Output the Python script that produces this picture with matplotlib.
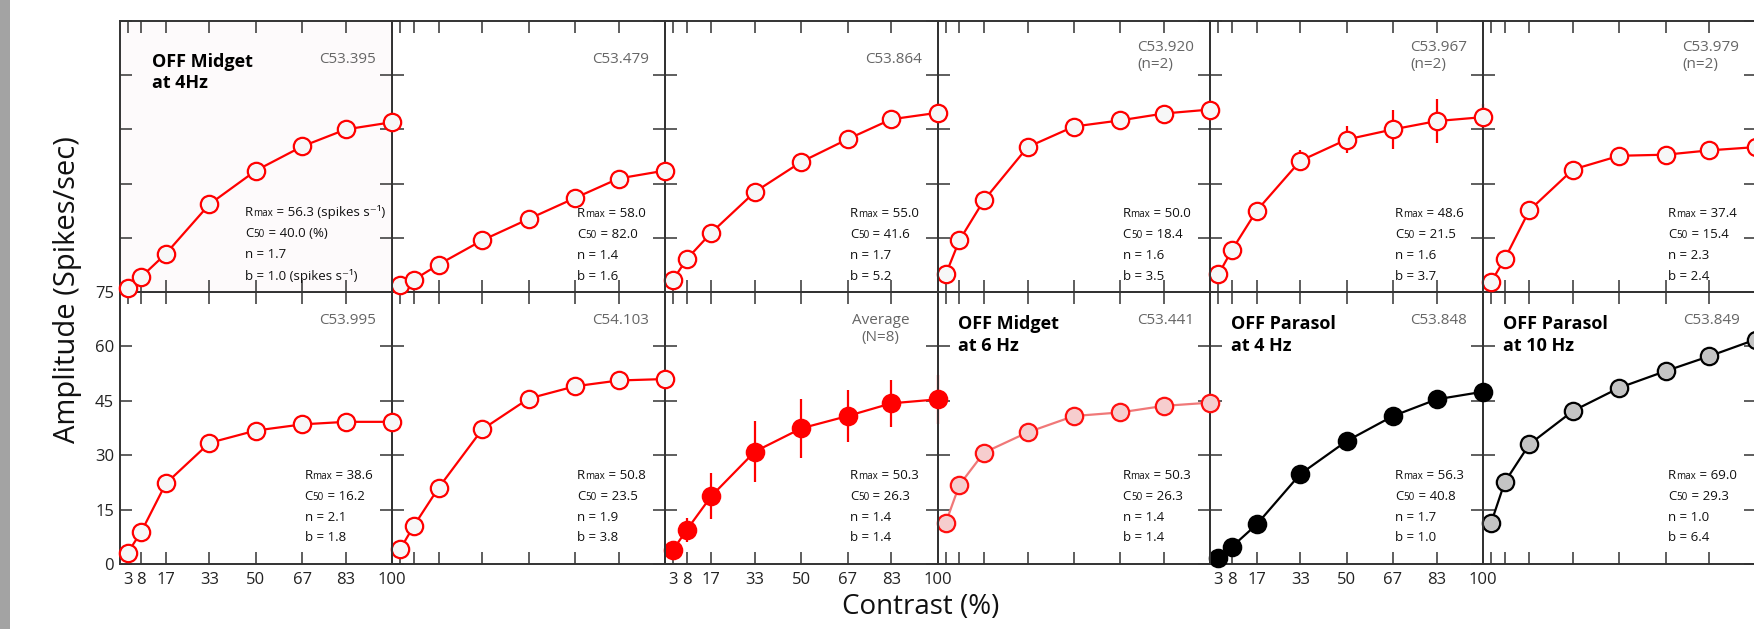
import numpy as np
import matplotlib.pyplot as plt
from matplotlib.patches import Rectangle
from matplotlib.offsetbox import TextArea, HPacker, VPacker, AnchoredOffsetbox

plt.rcParams['font.family'] = ['Open Sans', 'DejaVu Sans']

# data
contrast = [3, 8, 17, 33, 50, 67, 83, 100]
cells = ["C53.395", "C53.479", "C53.864", "C53.920\n(n=2)", "C53.967\n(n=2)", "C53.979\n(n=2)",
         "C53.995", "C54.103", "Average\n(N=8)", "C53.441", "C53.848", "C53.849"]

amp_c53395 = [1.2, 4.2, 10.6, 24.3, 33.6, 40.3, 45.0, 47.0]
amp_c53479 = [1.8, 3.4, 7.6, 14.3, 20.2, 26.0, 31.4, 33.6]
amp_c53864 = [3.4, 9.1, 16.4, 27.7, 36.0, 42.3, 47.8, 49.6]
amp_c53920 = [4.9, 14.3, 25.4, 40.1, 45.8, 47.5, 49.4, 50.5]
amp_c53967 = [4.9, 11.7, 22.5, 36.3, 42.2, 45.0, 47.3, 48.4]
amp_c53979 = [2.8, 9.2, 22.6, 33.9, 37.7, 38.0, 39.2, 40.1]
amp_c53995 = [3.1, 8.9, 22.2, 33.4, 36.8, 38.5, 39.2, 39.2]
amp_c54103 = [4.2, 10.6, 21.0, 37.1, 45.6, 49.0, 50.6, 51.0]
amp_average = [3.9, 9.4, 18.7, 31.0, 37.4, 40.8, 44.3, 45.4]
amp_c53441 = [11.4, 21.8, 30.7, 36.3, 40.8, 41.8, 43.6, 44.5]
amp_c53848 = [1.6, 4.8, 10.9, 24.8, 33.9, 40.8, 45.4, 47.5]
amp_c53849 = [11.4, 22.6, 33.0, 42.2, 48.6, 53.2, 57.3, 61.9]

err_c53967 = [0, 0, 0, 2.9, 3.8, 5.5, 6.2, 3.7]
err_average = [0, 3.4, 6.4, 8.4, 8.1, 7.2, 6.4, 6.8]

rmax = [56.3, 58.0, 55.0, 50.0, 48.6, 37.4, 38.6, 50.8, 50.3, 50.3, 56.3, 69.0]
c50 = [40.0, 82.0, 41.6, 18.4, 21.5, 15.4, 16.2, 23.5, 26.3, 26.3, 40.8, 29.3]
n_exp = [1.7, 1.4, 1.7, 1.6, 1.6, 2.3, 2.1, 1.9, 1.4, 1.4, 1.7, 1.0]
b_off = [1.0, 1.6, 5.2, 3.5, 3.7, 2.4, 1.8, 3.8, 1.4, 1.4, 1.0, 6.4]

titles = {0: "OFF Midget\nat 4Hz", 9: "OFF Midget\nat 6 Hz",
          10: "OFF Parasol\nat 4 Hz", 11: "OFF Parasol\nat 10 Hz"}

amps = [amp_c53395, amp_c53479, amp_c53864, amp_c53920, amp_c53967, amp_c53979,
        amp_c53995, amp_c54103, amp_average, amp_c53441, amp_c53848, amp_c53849]
errs = {4: err_c53967, 8: err_average}

# line colour, marker face, marker edge
styles = {8: ('#ff0000', '#ff0000', '#ff0000'),
          9: ('#f07878', '#f6cdce', '#ff1010'),
          10: ('black', 'black', 'black'),
          11: ('black', '#c4c4c4', 'black')}
open_red = ('#ff0000', '#f7f7f7', '#ff0000')

W, H = 1754, 629
fig = plt.figure(figsize=(W / 100, H / 100), dpi=100)
fig.add_artist(Rectangle((0, 0), 10 / W, 1, transform=fig.transFigure, color='#a3a3a3', lw=0))

x0 = 119.5
pw = 272.7
row_bot = [292, 564]
row_top = [21, 292]
fs_par = 9.5


def param_box(i):
    def line(big, small, rest):
        parts = [TextArea(big, textprops=dict(fontsize=fs_par, color='#111'))]
        if small:
            parts.append(TextArea(small, textprops=dict(fontsize=fs_par * 0.75, color='#111')))
        parts.append(TextArea(rest, textprops=dict(fontsize=fs_par, color='#111')))
        return HPacker(children=parts, align="baseline", pad=0, sep=0)
    unit = " (spikes s\u207b\u00b9)" if i == 0 else ""
    pct = " (%)" if i == 0 else ""
    rows = [line("R", "max", " = %.1f%s" % (rmax[i], unit)),
            line("C", "50", " = %.1f%s" % (c50[i], pct)),
            line("n", "", " = %.1f" % n_exp[i]),
            line("b", "", " = %.1f%s" % (b_off[i], unit))]
    return VPacker(children=rows, align="left", pad=0, sep=5.6)


for i in range(12):
    r, c = divmod(i, 6)
    left = (x0 + c * pw) / W
    bottom = 1 - row_bot[r] / H
    height = (row_bot[r] - row_top[r]) / H
    ax = fig.add_axes([left, bottom, pw / W, height])
    ax.set_zorder(30 - i)
    if i == 0:
        ax.set_facecolor('#fdfafb')
    else:
        ax.patch.set_alpha(0)

    lc, fc, ec = styles.get(i, open_red)
    if i in errs:
        ax.errorbar(contrast, amps[i], yerr=errs[i], fmt='none', ecolor=ec,
                    elinewidth=1.6, capsize=0, clip_on=False, zorder=2)
    ax.plot(contrast, amps[i], color=lc, lw=1.6, marker='o', ms=12.5,
            mfc=fc, mec=ec, mew=1.6, clip_on=False, zorder=3)

    ax.set_xlim(0, 100)
    ax.set_ylim(0, 75)
    ax.set_xticks(contrast)
    ax.set_yticks([0, 15, 30, 45, 60, 75])
    ax.tick_params(direction='in', length=8.5, width=1.1, color='#333',
                   top=True, right=True, labelsize=12, labelcolor='#222')
    ax.tick_params(axis='x', pad=6)
    ax.tick_params(axis='y', pad=4)
    if i not in (6, 8, 10):
        ax.tick_params(labelbottom=False)
    if i != 6:
        ax.tick_params(labelleft=False)
    for s in ax.spines.values():
        s.set_linewidth(1.4)
        s.set_color('#333')

    # cell label
    if i == 8:
        ax.text(0.79, 0.923, cells[i], transform=ax.transAxes, ha='center', va='top',
                fontsize=11, color='#666', linespacing=1.15)
    else:
        ytop = 0.923 if r == 1 else (0.93 if '\n' in cells[i] else 0.886)
        ax.text(0.941, ytop, cells[i], transform=ax.transAxes, ha='right', va='top',
                multialignment='left', fontsize=11, color='#666', linespacing=1.15)

    if i in titles:
        tx, ty = (0.121, 0.882) if i == 0 else (0.075, 0.915)
        ax.text(tx, ty, titles[i], transform=ax.transAxes, ha='left', va='top',
                fontsize=13, fontweight='bold', color='black', linespacing=1.25)

    box = AnchoredOffsetbox(loc='lower left', child=param_box(i), pad=0, borderpad=0,
                            frameon=False, bbox_to_anchor=(0.46 if i == 0 else 0.678,
                                                           0.072 if r == 1 else 0.035),
                            bbox_transform=ax.transAxes)
    ax.add_artist(box)

fig.text(68 / W, 1 - 290 / H, "Amplitude (Spikes/sec)", rotation=90, ha='center',
         va='center', fontsize=21, color='#111')
fig.text(921 / W, 1 - 607 / H, "Contrast (%)", ha='center', va='center',
         fontsize=20, color='#111')

fig.savefig('out.png', dpi=100)
